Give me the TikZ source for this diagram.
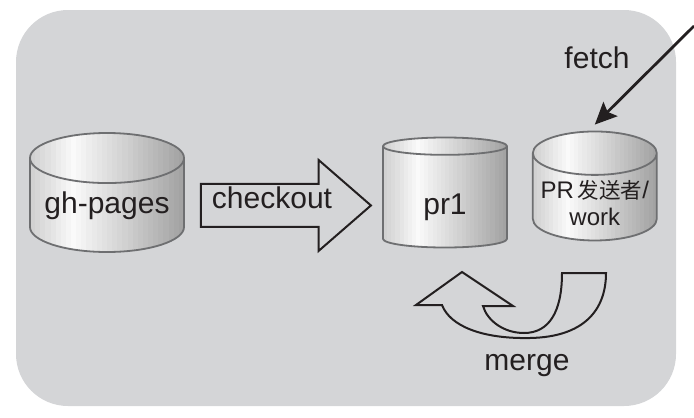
\documentclass[tikz,border=0pt]{standalone}
\usepackage{fontspec}
\setmainfont{Liberation Sans}
\newfontfamily\cjkfont{Noto Sans CJK SC}
\usetikzlibrary{shapes,arrows.meta,positioning,calc}
\definecolor{panelgray}{HTML}{D4D5D7}
\definecolor{inkblack}{HTML}{231F20}
\definecolor{rimgray}{HTML}{6E6F71}

\begin{document}
\begin{tikzpicture}[
    x=1pt, y=-1pt,
    repo/.style={cylinder, shape border rotate=90, aspect=0.4, draw=rimgray, line width=1.8pt, anchor=shape center,
        path picture={
            \foreach \i in {0,...,29} {
                \pgfmathsetmacro\tone{\i<8 ? 18-16*\i/8 : 2+34*(\i-8)/21}
                \fill[black!\tone] ($(path picture bounding box.south west)!\i/30!(path picture bounding box.south east)$)
                    rectangle ($(path picture bounding box.north west)!{(\i+1.3)/30}!(path picture bounding box.north east)$);
            }
        },
        inner sep=0pt, text=inkblack, font=\fontsize{30}{32}\selectfont},
    fatarrow/.style={single arrow, draw=inkblack, line width=2pt, fill=panelgray, single arrow tip angle=82, single arrow head extend=24pt, inner xsep=0pt, inner ysep=20.5pt, minimum height=170pt},
    lbl/.style={text=inkblack, font=\fontsize{30}{32}\selectfont, inner sep=0pt},
    fetcharrow/.style={-{Stealth[length=22pt,width=20pt,inset=4pt]}, line width=2.8pt, draw=inkblack},
    mergearrow/.style={draw=inkblack, line width=2pt, line join=miter}
]
\useasboundingbox (0,0) rectangle (694,418);

% Background panel
\fill[panelgray, rounded corners=52pt] (16,10) rectangle (676,406);

% Branches
\node[repo, minimum width=154pt, minimum height=119pt] (gh) at (107,192.5) {gh-pages};
\node[repo, minimum width=124pt, minimum height=110pt, text height=41pt] (pr1) at (445,192.5) {pr1};
\node[repo, minimum width=124pt, minimum height=109pt, anchor=west, right=24pt of pr1, font=\fontsize{24}{27}\selectfont] (work)
    {\raisebox{-16pt}[10pt][10pt]{\begin{tabular}{@{}c@{}}PR\,{\cjkfont\fontsize{21.5}{27}\selectfont 发送者}/\\work\end{tabular}}};

% Checkout
\node[fatarrow, anchor=tail] (co) at ([xshift=15pt]gh.east) {};
\node[lbl, anchor=base] (colbl) at (272,208) {checkout};

% Fetch
\coordinate (remote) at (694,26);
\draw[fetcharrow] (remote) -- ([yshift=6pt]work.north);
\node[lbl, anchor=base] (fetchlbl) at (597,68) {fetch};

% Merge
\draw[mergearrow] (606,273) -- (562,273) .. controls (562,312) and (549,333) .. (524,333)
    .. controls (503,333) and (487,320) .. (483,306) -- (513,306) -- (462,272) -- (416,305) -- (442,305)
    .. controls (450,326) and (482,339) .. (530,338) .. controls (584,337) and (606,310) .. (606,273) -- cycle;
\node[lbl, anchor=base] (mergelbl) at (527,370) {merge};

\end{tikzpicture}
\end{document}
